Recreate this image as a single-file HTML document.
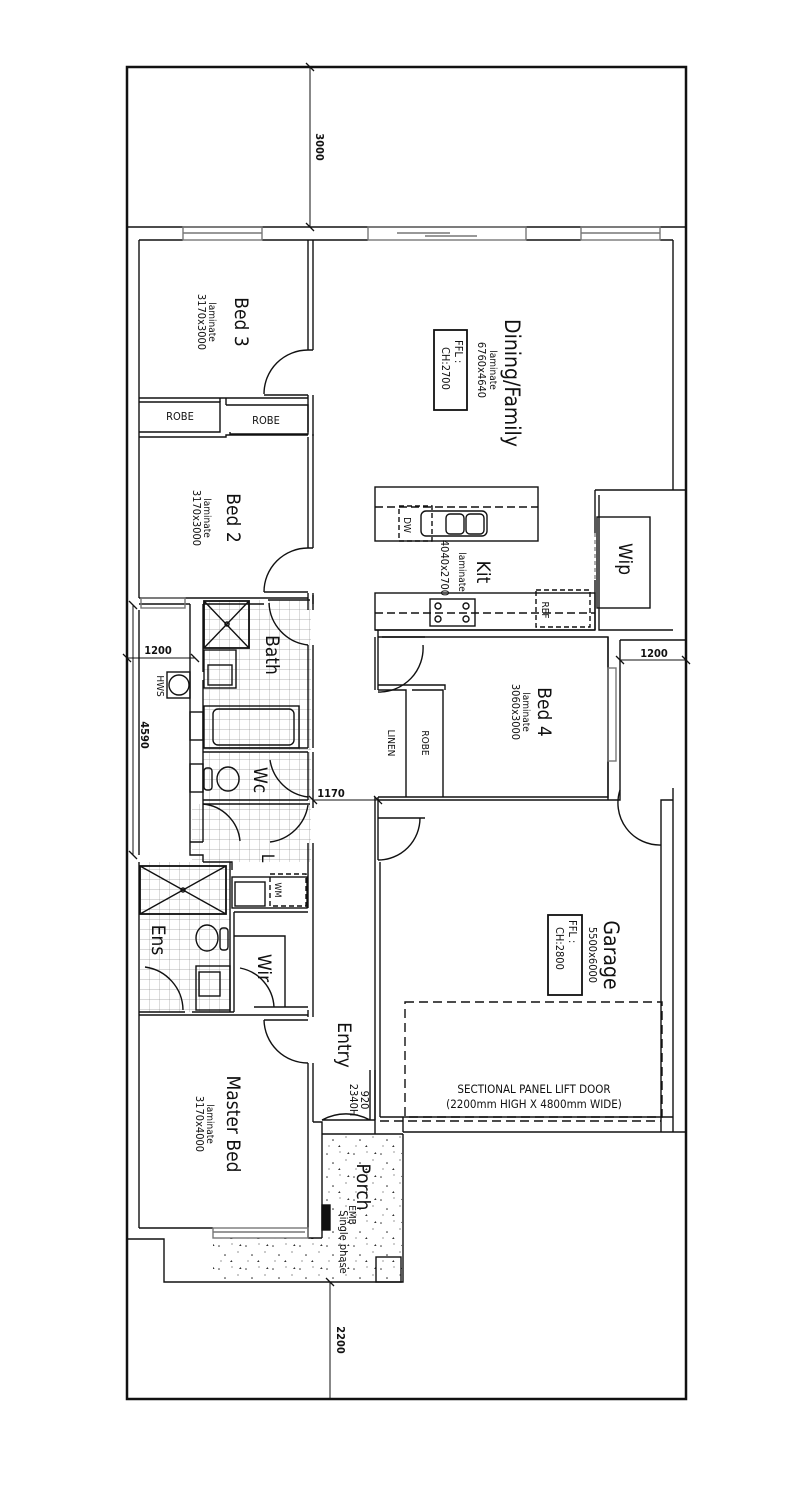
<!DOCTYPE html>
<html><head><meta charset="utf-8"><style>
html,body{margin:0;padding:0;background:#fff;}
svg{display:block;}
text{font-family:"DejaVu Sans Condensed","Liberation Sans",sans-serif;fill:#111;}
</style></head><body>
<svg width="811" height="1487" viewBox="0 0 811 1487" xmlns="http://www.w3.org/2000/svg">
<defs>
<pattern id="tile" width="10" height="10" patternUnits="userSpaceOnUse">
<path d="M10 0V10M0 10H10" stroke="#9a9a9a" stroke-width="0.7" fill="none"/>
</pattern>
<pattern id="dots" width="27" height="23" patternUnits="userSpaceOnUse">
<circle cx="3" cy="4" r="0.8" fill="#333"/><circle cx="16" cy="2" r="0.6" fill="#555"/>
<circle cx="9" cy="13" r="0.8" fill="#222"/><circle cx="22" cy="10" r="0.6" fill="#444"/>
<circle cx="5" cy="19" r="0.6" fill="#555"/>
<path d="M14 20l1.5-2 1 2z" fill="#333"/><path d="M23 4l1.5-2 1 2z" fill="#333"/>
</pattern>
</defs>

<rect x="203" y="600" width="108" height="150" fill="url(#tile)"/>
<rect x="203" y="752" width="108" height="52" fill="url(#tile)"/>
<rect x="192" y="804" width="119" height="58" fill="url(#tile)"/>
<rect x="140" y="862" width="90" height="150" fill="url(#tile)"/>
<rect x="322" y="1134" width="80" height="148" fill="url(#dots)"/>
<rect x="213" y="1238" width="110" height="44" fill="url(#dots)"/>

<g fill="none" stroke="#111" stroke-width="1.4">
<rect x="127" y="67" width="559" height="1332" stroke-width="2.5"/>
<path d="M127 227H686"/>
<path d="M139 240H183M262 240H368M526 240H581M660 240H673"/>
<rect x="183" y="227" width="79" height="13" stroke="#777"/>
<path d="M183 233H262" stroke="#777"/>
<rect x="368" y="227" width="158" height="13" stroke="#777"/>
<path d="M397 233H450M425 236H477" stroke="#777"/>
<rect x="581" y="227" width="79" height="13" stroke="#777"/>
<path d="M581 233H660" stroke="#777"/>
<path d="M139 240V598M139 610V855M139 862V1228"/>
<path d="M308 240V350M313 240V350M308 350H313"/>
<path d="M308 395V432M313 395V436"/>
<path d="M264 395H308M308 350A44 44 0 0 0 264 394"/>
<path d="M139 398H308M139 402H220V432H139M226 405H308V434H230V432"/>
<path d="M139 437H226V435H308"/>
<path d="M220 398V402M226 398V405"/>
<path d="M308 437V548M313 434V548M308 548H313"/>
<path d="M264 592H308M308 548A44 44 0 0 0 264 592"/>
<path d="M139 598H308M139 604H190M203 604H264M268 600H310"/>
<rect x="141" y="598" width="44" height="10" stroke="#777"/>
<path d="M190 604V842M203 604V672M203 680V842M190 842H203"/>
<path d="M308 593V610M313 593V610M308 645V748M313 645V748"/>
<path d="M313 604V595"/>
<rect x="204" y="601" width="45" height="47" stroke-width="1.8"/>
<path d="M204 601L249 648M249 601L204 648"/>
<circle cx="227" cy="624" r="2"/>
<rect x="204" y="650" width="32" height="38"/>
<rect x="208" y="665" width="24" height="20"/>
<rect x="204" y="706" width="95" height="42" stroke="#111"/>
<rect x="213" y="709" width="81" height="36" rx="5"/>
<rect x="190" y="712" width="13" height="28"/>
<path d="M308 645A44 44 0 0 1 269 603"/>
<path d="M203 752H308M203 800H308M203 748H308"/>
<rect x="190" y="764" width="13" height="28"/>
<ellipse cx="228" cy="779" rx="11" ry="12"/>
<rect x="204" y="768" width="8" height="22" rx="3"/>
<path d="M308 797A44 44 0 0 1 270 760"/>
<path d="M308 752V800M313 752V808"/>
<path d="M203 804H310"/>
<path d="M190 842V855H203V862"/>
<path d="M203 862H230V908M230 862H232V870"/>
<path d="M203 804A41 41 0 0 1 240 841"/>
<path d="M308 805A44 44 0 0 1 270 842"/>
<path d="M308 843V908M313 843V1010"/>
<rect x="232" y="877" width="75" height="31"/>
<rect x="235" y="882" width="30" height="24"/>
<rect x="270" y="874" width="36" height="32" stroke-dasharray="5,3"/>
<rect x="140" y="866" width="86" height="48" stroke-width="1.8"/>
<path d="M140 866L226 914M226 866L140 914"/>
<circle cx="183" cy="890" r="2"/>
<ellipse cx="207" cy="938" rx="11" ry="13"/>
<rect x="220" y="928" width="8" height="22" rx="3"/>
<rect x="196" y="966" width="34" height="44"/>
<rect x="199" y="972" width="21" height="24"/>
<path d="M230 908V1012M234 912V1012"/>
<path d="M145 967A44 44 0 0 1 183 1010"/>
<path d="M139 1012H185M192 1012H234M139 1015H308"/>
<path d="M234 912H308M234 936H285V1007M254 1007H308"/>
<path d="M240 968A42 42 0 0 1 274 1007"/>
<path d="M308 1010V1017M313 1010V1017"/>
<path d="M264 1020H308M308 1063A44 44 0 0 1 264 1020"/>
<path d="M308 1063V1238M313 1063V1122"/>
<path d="M313 1122H322V1238M308 1238H322"/>
<path d="M139 1228H213M127 1239H164V1282H403V1134"/>
<rect x="213" y="1228" width="95" height="10" stroke="#777"/>
<path d="M213 1232H305" stroke="#777"/>
<rect x="376" y="1257" width="25" height="25"/>
<rect x="322" y="1205" width="8" height="25" fill="#111"/>
<path d="M370 1070V1120M375 1070V1120M322 1120H375M370 1120A50 50 0 0 0 322 1120"/>
<path d="M375 1120V1134M322 1134H403M403 1132H686"/>
<path d="M375 637V690M378 637V690"/>
<path d="M375 797V860M378 797V860"/>
<path d="M378 818H425M378 860A42 42 0 0 0 420 818"/>
<path d="M375 860V1120M380 862V1117"/>
<path d="M380 1117H673M403 1132V1117"/>
<path d="M673 788V1132M673 800H661V1132"/>
<path d="M620 790A42 42 0 0 0 661 845"/>
<rect x="405" y="1002" width="257" height="115" stroke-dasharray="9,5"/>
<path d="M380 1121H661" stroke-dasharray="9,5"/>
<path d="M378 800H620V790M378 797H608V637H378"/>
<path d="M378 630V637M375 630H595"/>
<path d="M378 690H406V797M412 690H443V797M378 685H445V690"/>
<path d="M382 637H425M378 692A44 44 0 0 0 423 645"/>
<path d="M608 637V800M620 640H686M620 640V790"/>
<rect x="608" y="668" width="8" height="93" stroke="#777"/>
<rect x="375" y="487" width="163" height="54"/>
<path d="M375 507H538" stroke-dasharray="8,4"/>
<rect x="399" y="506" width="33" height="35" stroke-dasharray="5,3"/>
<rect x="421" y="511" width="66" height="25" rx="5"/>
<rect x="446" y="514" width="18" height="20" rx="4"/>
<rect x="466" y="514" width="18" height="20" rx="4"/>
<rect x="375" y="593" width="220" height="37"/>
<path d="M375 613H595" stroke-dasharray="8,4"/>
<rect x="430" y="599" width="45" height="27"/>
<circle cx="438" cy="606" r="3"/><circle cx="438" cy="619" r="3"/>
<circle cx="466" cy="606" r="3"/><circle cx="466" cy="619" r="3"/>
<rect x="536" y="590" width="54" height="37" stroke-dasharray="5,3"/>
<path d="M595 490V533M595 580V630M595 490H686M599 495V630H673"/>
<path d="M595 533V580" stroke-dasharray="4,3" stroke="#888"/>
<rect x="597" y="517" width="53" height="91"/>
<path d="M673 240V490"/>
<rect x="434" y="330" width="33" height="80" stroke-width="1.8"/>
<rect x="548" y="915" width="34" height="80" stroke-width="1.8"/>
<circle cx="179" cy="685" r="10"/>
<rect x="167" y="672" width="23" height="26"/>
<path d="M310 67V227M330 1282V1399M127 658H195M133 605V855M313 800H378M620 660H686" stroke-width="1"/>
<path d="M306 63l8 8M306 223l8 8M326 1278l8 8M123 654l8 8M191 654l8 8M129 601l8 8M129 851l8 8M309 796l8 8M374 796l8 8M616 656l8 8M682 656l8 8" stroke-width="1.3"/>
</g>

<g text-anchor="middle">
<text transform="translate(235,322) rotate(90)" font-size="19">Bed 3</text>
<text transform="translate(209,322) rotate(90)" font-size="10">laminate</text>
<text transform="translate(198,322) rotate(90)" font-size="11">3170x3000</text>
<text transform="translate(227,518) rotate(90)" font-size="19">Bed 2</text>
<text transform="translate(204,518) rotate(90)" font-size="10">laminate</text>
<text transform="translate(193,518) rotate(90)" font-size="11">3170x3000</text>
<text x="180" y="420" font-size="11">ROBE</text>
<text x="266" y="424" font-size="11">ROBE</text>
<text transform="translate(505,383) rotate(90)" font-size="21">Dining/Family</text>
<text transform="translate(490,370) rotate(90)" font-size="10">laminate</text>
<text transform="translate(478,370) rotate(90)" font-size="11">6760x4640</text>
<text transform="translate(455,340) rotate(90)" font-size="11" text-anchor="start">FFL :</text>
<text transform="translate(442,347) rotate(90)" font-size="11" text-anchor="start">CH:2700</text>
<text transform="translate(477,572) rotate(90)" font-size="19">Kit</text>
<text transform="translate(459,572) rotate(90)" font-size="10">laminate</text>
<text transform="translate(441,568) rotate(90)" font-size="11">4040x2700</text>
<text transform="translate(404,525) rotate(90)" font-size="10">DW</text>
<text transform="translate(542,610) rotate(90)" font-size="10">REF</text>
<text transform="translate(619,559) rotate(90)" font-size="19">Wip</text>
<text transform="translate(266,655) rotate(90)" font-size="19">Bath</text>
<text transform="translate(254,780) rotate(90)" font-size="19">Wc</text>
<text transform="translate(262,858) rotate(90)" font-size="17">L</text>
<text transform="translate(275,890) rotate(90)" font-size="9">WM</text>
<text transform="translate(152,940) rotate(90)" font-size="19">Ens</text>
<text transform="translate(258,968) rotate(90)" font-size="19">Wir</text>
<text transform="translate(227,1124) rotate(90)" font-size="19">Master Bed</text>
<text transform="translate(207,1124) rotate(90)" font-size="10">laminate</text>
<text transform="translate(196,1124) rotate(90)" font-size="11">3170x4000</text>
<text transform="translate(338,1045) rotate(90)" font-size="19">Entry</text>
<text transform="translate(361,1100) rotate(90)" font-size="11">920</text>
<text transform="translate(350,1100) rotate(90)" font-size="11">2340H</text>
<text transform="translate(357,1187) rotate(90)" font-size="19">Porch</text>
<text transform="translate(340,1242) rotate(90)" font-size="11">Single phase</text>
<text transform="translate(349,1215) rotate(90)" font-size="10">EMB</text>
<text transform="translate(538,712) rotate(90)" font-size="19">Bed 4</text>
<text transform="translate(523,712) rotate(90)" font-size="10">laminate</text>
<text transform="translate(512,712) rotate(90)" font-size="11">3060x3000</text>
<text transform="translate(388,743) rotate(90)" font-size="10">LINEN</text>
<text transform="translate(422,743) rotate(90)" font-size="10">ROBE</text>
<text transform="translate(604,955) rotate(90)" font-size="21">Garage</text>
<text transform="translate(589,955) rotate(90)" font-size="11">5500x6000</text>
<text transform="translate(569,920) rotate(90)" font-size="11" text-anchor="start">FFL :</text>
<text transform="translate(556,927) rotate(90)" font-size="11" text-anchor="start">CH:2800</text>
<text x="534" y="1093" font-size="11.5">SECTIONAL PANEL LIFT DOOR</text>
<text x="534" y="1108" font-size="11.5">(2200mm HIGH X 4800mm WIDE)</text>
<text transform="translate(316,147) rotate(90)" font-size="11" font-weight="bold">3000</text>
<text transform="translate(337,1340) rotate(90)" font-size="11" font-weight="bold">2200</text>
<text transform="translate(141,735) rotate(90)" font-size="11" font-weight="bold">4590</text>
<text transform="translate(157,686) rotate(90)" font-size="10">HWS</text>
<text x="158" y="654" font-size="11" font-weight="bold">1200</text>
<text x="331" y="797" font-size="11" font-weight="bold">1170</text>
<text x="654" y="657" font-size="11" font-weight="bold">1200</text>
</g>
</svg>
</body></html>
